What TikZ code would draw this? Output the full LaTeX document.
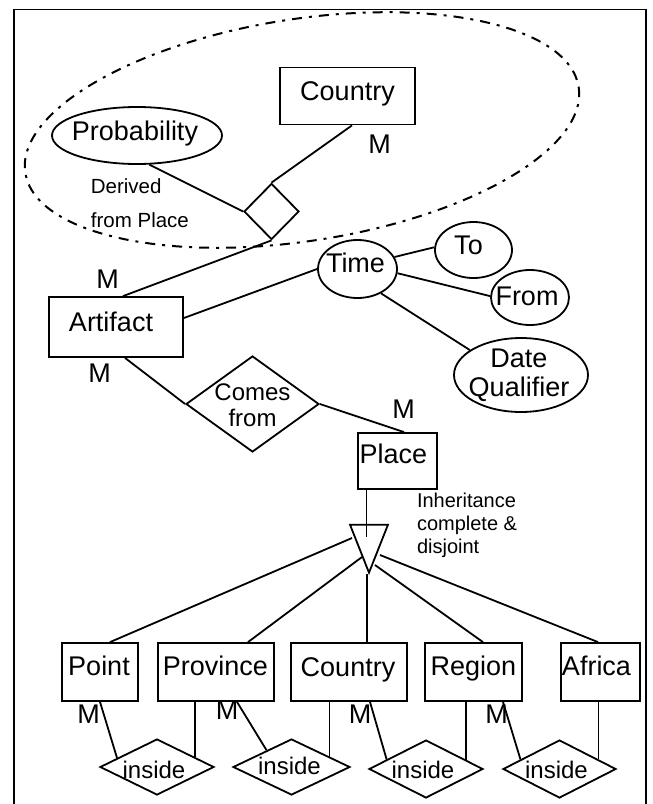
\documentclass[tikz,border=0pt]{standalone}
\usepackage{fontspec}
\setmainfont{Liberation Sans}
\usetikzlibrary{shapes.geometric,calc}
\newcommand{\bl}[3][0]{\raisebox{-#2pt}[0pt][0pt]{\makebox[0pt][c]{\kern#1pt\kern#1pt #3}}}
\newcommand{\tlft}[1]{\raisebox{0pt}[0pt][0pt]{\makebox[0pt][l]{#1}}}
\begin{document}
\begin{tikzpicture}[x=1pt,y=-1pt, line width=1.8pt,
  big/.style={font=\fontsize{27}{29}\selectfont},
  med/.style={font=\fontsize{24}{26}\selectfont},
  sml/.style={font=\fontsize{20}{23}\selectfont},
  ent/.style={draw, rectangle, inner sep=0pt, big},
  attr/.style={draw, ellipse, inner sep=0pt, big},
  rel/.style={draw, diamond, inner sep=0pt, big},
  lbl/.style={inner sep=0pt, big, anchor=base},
  dashdot/.style={line width=2pt, dash pattern=on 10pt off 7pt on 3pt off 7pt}]

\useasboundingbox (0,0) rectangle (653,804);
\draw (14,810) -- (14,9.5) -- (646,9.5) -- (646,810);

% derived group
\draw[dashdot, rotate around={8.8:(302,130)}] (302,130) ellipse [x radius=280, y radius=111];

\node[ent, minimum width=135pt, minimum height=57pt] (c1) at (347.5,96) {\bl{4}{Country}};
\node[attr, minimum width=170pt, minimum height=57pt] (prob) at (137,135.5) {\bl[-2]{4.5}{Probability}};
\node[inner sep=0pt, anchor=base west, font=\fontsize{20.5}{23}\selectfont] (dtxt) at (90,193) {Derived};
\node[inner sep=0pt, anchor=base west, font=\fontsize{20.5}{23}\selectfont] (ftxt) at (90,227) {from Place};
\node[rel, minimum width=55pt, minimum height=56pt] (der) at (271.5,211.5) {};
\node[lbl] (m1) at (379.5,153) {M};

% artifact and time
\node[ent, minimum width=134pt, minimum height=60pt] (art) at (116,327) {\bl[-5]{4}{Artifact}};
\node[lbl] (m2) at (107.5,288) {M};
\node[lbl] (m3) at (99.5,382) {M};
\node[attr, minimum width=79pt, minimum height=58pt] (time) at (357.5,269) {\bl[-2]{3}{Time}};
\node[attr, minimum width=77pt, minimum height=56pt] (to) at (473.5,250) {\bl[-5]{4}{To}};
\node[attr, minimum width=78pt, minimum height=55pt] (from) at (530,297.5) {\bl[-3]{8}{From}};
\node[attr, minimum width=134pt, minimum height=74pt] (dq) at (521,375) {\bl[-2]{-8}{\begin{tabular}[t]{@{}c@{}}Date\\Qualifier\end{tabular}}};

% comes from / place
\node[rel, med, minimum width=133pt, minimum height=96pt] (comes) at (252.5,404) {\bl{-4}{\begin{tabular}[t]{@{}c@{}}Comes\\from\end{tabular}}};
\node[ent, minimum width=79pt, minimum height=56pt] (place) at (397.5,461) {\bl[-4]{2}{Place}};
\node[lbl] (m4) at (403.5,418.5) {M};
\node[sml, inner sep=0pt] (inh) at (417,507) {\tlft{\begin{tabular}[t]{@{}l@{}}Inheritance\\complete \&\\disjoint\end{tabular}}};
\node[draw, isosceles triangle, isosceles triangle stretches, shape border rotate=-90,
      minimum width=38pt, minimum height=48pt, inner sep=0pt, anchor=apex] (isa) at (369,575) {};

% children
\node[ent, minimum width=76pt, minimum height=58pt] (pt) at (100,672) {\bl[-1]{3.5}{Point}};
\node[ent, minimum width=116pt, minimum height=58pt] (prov) at (216,672) {\bl[-0.5]{3.5}{Province}};
\node[ent, minimum width=116pt, minimum height=58pt] (c2) at (349,672) {\bl[-1]{4}{Country}};
\node[ent, minimum width=97pt, minimum height=58pt] (reg) at (473.5,672) {\bl{3.5}{Region}};
\node[ent, minimum width=79pt, minimum height=58pt] (afr) at (600.5,672) {\bl[-4]{3.5}{Africa}};

\node[rel, med, minimum width=114pt, minimum height=56pt] (d1) at (157,767) {\bl[-3]{11}{inside}};
\node[rel, med, minimum width=117pt, minimum height=56pt] (d2) at (291.5,767) {\bl[-2]{7}{inside}};
\node[rel, med, minimum width=114pt, minimum height=58pt] (d3) at (426,769) {\bl[-3]{9}{inside}};
\node[rel, med, minimum width=113pt, minimum height=58pt] (d4) at (559.5,769) {\bl[-3]{9}{inside}};

\node[lbl] (m5) at (88.5,723) {M};
\node[lbl] (m6) at (227,719) {M};
\node[lbl] (m7) at (360,723) {M};
\node[lbl] (m8) at (496.5,723) {M};

% connectors
\draw ([xshift=4.5pt]c1.south) -- (der.north);
\draw (prob.-67) -- (der.west);
\draw (der.south) -- ([xshift=7pt]art.north);
\draw ([yshift=9pt]art.east) -- (time.west);
\draw (time.18) -- (to.176);
\draw (time.-6) -- (from.178);
\draw (time.-46) -- (dq.154);
\draw ([xshift=9pt]art.south) -- (comes.west);
\draw (comes.east) -- ([xshift=6.5pt]place.north);
\path ([xshift=-31pt]place.south) coordinate (ps);
\draw (ps) -- ([yshift=-13pt]ps |- isa.left corner);

\draw ([xshift=10pt]pt.north) -- ($(isa.apex)+(-17,-37)$);
\draw ([xshift=32pt]prov.north) -- ($(isa.apex)+(-7,-18)$);
\draw ([xshift=18pt]c2.north) -- ($(isa.apex)+(-2,-1)$);
\draw ([xshift=9.5pt]reg.north) -- ($(isa.apex)+(6,-10)$);
\draw ([xshift=-2.5pt]afr.north) -- ($(isa.apex)+(11,-20)$);

\draw (pt.south) -- ($(d1.west)!0.31!(d1.north)$);
\path ($(d1.north)!0.66!(d1.east)$) coordinate (a1);
\draw (a1 |- prov.south) -- (a1);
\draw ([xshift=21pt]prov.south) -- ($(d2.west)!0.58!(d2.north)$);
\path ($(d2.north)!0.64!(d2.east)$) coordinate (a2);
\draw (a2 |- c2.south) -- (a2);
\draw ([xshift=21pt]c2.south) -- ($(d3.west)!0.32!(d3.north)$);
\path ($(d3.north)!0.69!(d3.east)$) coordinate (a3);
\draw (a3 |- reg.south) -- (a3);
\draw ([xshift=29.5pt]reg.south) -- ($(d4.west)!0.32!(d4.north)$);
\path ($(d4.north)!0.68!(d4.east)$) coordinate (a4);
\draw (a4 |- afr.south) -- (a4);
\end{tikzpicture}
\end{document}
